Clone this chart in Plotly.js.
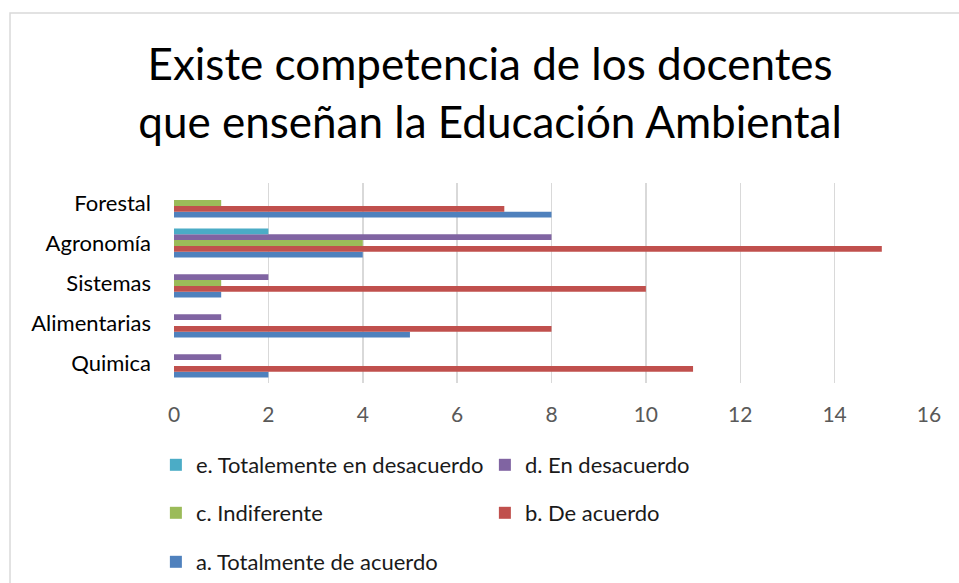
<!DOCTYPE html>
<html>
<head>
<meta charset="utf-8">
<script src="https://cdn.plot.ly/plotly-3.0.1.min.js"></script>
<style>html,body{margin:0;padding:0;background:#fff;}#chart{width:959px;height:583px;}</style>
</head>
<body>
<div id="chart"></div>
<script>
const categories = ['Quimica', 'Alimentarias', 'Sistemas', 'Agronomía', 'Forestal'];
const seriesNames = ['a. Totalmente de acuerdo', 'b. De acuerdo', 'c. Indiferente', 'd. En desacuerdo', 'e. Totalemente en desacuerdo'];
const aTotalmenteDeAcuerdo = [2, 5, 1, 4, 8];
const bDeAcuerdo = [11, 8, 10, 15, 7];
const cIndiferente = [0, 0, 1, 4, 1];
const dEnDesacuerdo = [1, 1, 2, 8, 0];
const eTotalmenteEnDesacuerdo = [0, 0, 0, 2, 0];
const xTicks = [0, 2, 4, 6, 8, 10, 12, 14, 16];

const values = [aTotalmenteDeAcuerdo, bDeAcuerdo, cIndiferente, dEnDesacuerdo, eTotalmenteEnDesacuerdo];
const colors = ['#4F81BD', '#C0504D', '#9BBB59', '#8064A2', '#4BACC6'];
const legendIds = ['legend3', 'legend2', 'legend2', 'legend', 'legend'];

const traces = values.map((v, i) => ({
  type: 'bar',
  orientation: 'h',
  y: categories,
  x: v,
  name: seriesNames[i],
  marker: {color: colors[i]},
  legend: legendIds[i],
  hoverinfo: 'skip'
}));

const FONT = 'Lato, "Open Sans", sans-serif';
const legBase = {
  orientation: 'h',
  traceorder: 'reversed',
  xref: 'paper', yref: 'paper',
  x: -0.024, xanchor: 'left', yanchor: 'middle',
  entrywidth: 284, entrywidthmode: 'pixels',
  font: {family: FONT, size: 22, color: '#1a1a1a'},
  bgcolor: 'rgba(0,0,0,0)'
};

const layout = {
  width: 959, height: 583,
  margin: {l: 174, r: 30, t: 183, b: 200, autoexpand: false},
  paper_bgcolor: '#fff', plot_bgcolor: '#fff',
  barmode: 'group',
  bargap: 0.27,
  bargroupgap: 0,
  title: {
    text: 'Existe competencia de los docentes<br>que enseñan la Educación Ambiental',
    font: {family: FONT, size: 44, color: '#000'},
    xref: 'container', yref: 'container',
    x: 0.511, xanchor: 'center',
    y: 0.862, yanchor: 'middle'
  },
  xaxis: {
    range: [0, 16],
    tickvals: xTicks,
    ticktext: xTicks.map(String),
    showgrid: true, gridcolor: '#d9d9d9', gridwidth: 1.5,
    zeroline: false, showline: false,
    ticks: '',
    ticklabelstandoff: 17,
    tickfont: {family: FONT, size: 21, color: '#595959'},
    fixedrange: true
  },
  yaxis: {
    type: 'category',
    categoryorder: 'array', categoryarray: categories,
    showgrid: false, zeroline: false, showline: false,
    ticks: '',
    ticklabelstandoff: 22,
    tickfont: {family: FONT, size: 22, color: '#000'},
    fixedrange: true
  },
  legend: Object.assign({}, legBase, {y: -0.41}),
  legend2: Object.assign({}, legBase, {y: -0.65}),
  legend3: Object.assign({}, legBase, {y: -0.895}),
  shapes: [{
    type: 'rect', xref: 'paper', yref: 'paper',
    x0: -0.2172, x1: 2, y0: -3, y1: 1.85,
    line: {color: '#d9d9d9', width: 1.5},
    fillcolor: 'rgba(0,0,0,0)', layer: 'below'
  }],
  hovermode: false
};

Plotly.newPlot('chart', traces, layout, {displayModeBar: false, staticPlot: true});
</script>
</body>
</html>
